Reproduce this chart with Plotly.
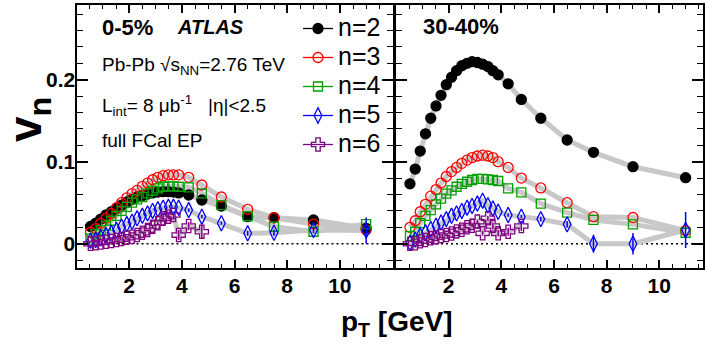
import plotly.graph_objects as go

# ---------------- data ----------------
pt = [0.53, 0.73, 0.92, 1.12, 1.32, 1.52, 1.71, 1.91, 2.11, 2.30, 2.50, 2.70, 2.89,
      3.09, 3.29, 3.49, 3.68, 3.88, 4.26, 4.76, 5.50, 6.50, 7.50, 9.00, 11.00]
pt6 = [0.53, 0.73, 0.92, 1.12, 1.32, 1.52, 1.71, 1.91, 2.11, 2.30, 2.50, 2.70, 2.89,
       3.09, 3.29, 3.49, 3.68, 3.88, 4.26, 4.76]

# 0-5 % centrality
c_v2 = [0.021, 0.025, 0.030, 0.035, 0.039, 0.043, 0.047, 0.051, 0.054, 0.057, 0.0585, 0.0605, 0.062,
        0.063, 0.0635, 0.0635, 0.063, 0.062, 0.0594, 0.0533, 0.046, 0.033, 0.0317, 0.029, 0.0188]
c_v3 = [0.0140, 0.0185, 0.0249, 0.031, 0.037, 0.044, 0.050, 0.056, 0.061, 0.065, 0.070, 0.074, 0.078,
        0.081, 0.083, 0.084, 0.084, 0.084, 0.081, 0.0716, 0.057, 0.042, 0.0317, 0.024, 0.0167]
c_v4 = [0.0066, 0.0118, 0.0167, 0.022, 0.028, 0.034, 0.040, 0.045, 0.050, 0.054, 0.057, 0.0615, 0.0646,
        0.0675, 0.0695, 0.070, 0.070, 0.0695, 0.0688, 0.0615, 0.047, 0.0335, 0.0207, 0.0146, 0.024]
c_v5 = [0.0037, 0.0045, 0.0078, 0.0106, 0.0134, 0.0167, 0.0207, 0.024, 0.0268, 0.031, 0.034, 0.037, 0.040,
        0.042, 0.044, 0.045, 0.045, 0.044, 0.041, 0.033, 0.025, 0.0127, 0.0134, 0.0167, 0.016]
c_v6 = [0.0, 0.0005, 0.0015, 0.0025, 0.0033, 0.0045, 0.0057, 0.0073, 0.0085, 0.0106, 0.0134, 0.0167, 0.0207,
        0.025, 0.031, 0.033, 0.035, 0.0106, 0.0216, 0.0146]
c_e5 = [0, 0, 0, 0, 0, 0, 0, 0, 0, 0, 0, 0, 0, 0, 0, 0, 0, 0, 0.002, 0.002, 0.002, 0.003, 0.004, 0.004, 0.016]
c_e6 = [0, 0, 0, 0, 0, 0, 0, 0, 0, 0, 0, 0, 0.002, 0.002, 0.003, 0.003, 0.004, 0.006, 0.005, 0.008]

# 30-40 % centrality
p_v2 = [0.073, 0.091, 0.113, 0.134, 0.153, 0.168, 0.181, 0.194, 0.203, 0.211, 0.217, 0.220, 0.222,
        0.221, 0.219, 0.216, 0.211, 0.206, 0.195, 0.176, 0.153, 0.1265, 0.1114, 0.0939, 0.0805]
p_v3 = [0.020, 0.028, 0.039, 0.048, 0.058, 0.066, 0.074, 0.082, 0.088, 0.093, 0.098, 0.102, 0.105,
        0.107, 0.108, 0.107, 0.105, 0.100, 0.093, 0.080, 0.068, 0.050, 0.033, 0.032, 0.016]
p_v4 = [0.0094, 0.0146, 0.025, 0.034, 0.041, 0.048, 0.055, 0.061, 0.065, 0.0695, 0.073, 0.0756, 0.0777,
        0.079, 0.079, 0.0785, 0.0777, 0.0765, 0.0675, 0.0627, 0.049, 0.038, 0.029, 0.0236, 0.0134]
p_v5 = [0.001, 0.005, 0.010, 0.014, 0.018, 0.022, 0.026, 0.030, 0.034, 0.037, 0.040, 0.044, 0.046,
        0.049, 0.0525, 0.047, 0.043, 0.039, 0.035, 0.033, 0.030, 0.0236, 0.0, 0.0, 0.0167]
p_v6 = [0.0, 0.0005, 0.003, 0.0045, 0.0066, 0.008, 0.0094, 0.0106, 0.0125, 0.015, 0.017, 0.020, 0.022,
        0.027, 0.0127, 0.031, 0.0216, 0.0127, 0.0146, 0.0216]
p_e5 = [0, 0, 0, 0, 0, 0, 0, 0, 0, 0, 0, 0, 0, 0, 0, 0, 0, 0, 0.002, 0.002, 0.003, 0.004, 0.011, 0.013, 0.022]
p_e6 = [0, 0, 0, 0, 0, 0, 0, 0, 0, 0, 0, 0, 0.002, 0.002, 0.003, 0.003, 0.004, 0.004, 0.005, 0.006]

series_names = ["n=2", "n=3", "n=4", "n=5", "n=6"]
colors = ["#000000", "#ff0000", "#00a000", "#0000ff", "#800080"]
symbols = ["circle", "circle-open", "square-open", "diamond-tall-open", "cross-open"]
sizes = [10, 10, 9, 11, 11]

FONT = "Liberation Sans, Arial, Helvetica, sans-serif"
BAND = "#c8c8c8"

W, H = 705, 346
def px(x):
    return x / W
def py(y):
    return 1 - y / H

fig = go.Figure()

central = [(pt, c_v2, None), (pt, c_v3, None), (pt, c_v4, None), (pt, c_v5, c_e5), (pt6, c_v6, c_e6)]
peripheral = [(pt, p_v2, None), (pt, p_v3, None), (pt, p_v4, None), (pt, p_v5, p_e5), (pt6, p_v6, p_e6)]

# systematic bands (grey lines) first
for xa, ya, data in [("x", "y", central), ("x2", "y2", peripheral)]:
    for xs, ys, _ in data:
        fig.add_trace(go.Scatter(x=xs, y=ys, mode="lines", xaxis=xa, yaxis=ya,
                                 line=dict(color=BAND, width=5), showlegend=False,
                                 hoverinfo="skip"))

# markers
for xa, ya, data in [("x", "y", central), ("x2", "y2", peripheral)]:
    for i, (xs, ys, es) in enumerate(data):
        err = dict(type="data", array=es, visible=True, color=colors[i], thickness=1.5, width=0) if es else None
        fig.add_trace(go.Scatter(
            x=xs, y=ys, mode="markers", xaxis=xa, yaxis=ya, showlegend=False,
            legendgroup=series_names[i],
            marker=dict(symbol=symbols[i], size=sizes[i], color=colors[i],
                        line=dict(color=colors[i], width=1.3)),
            error_y=err))

# legend entries (ROOT style: line through marker)
for i in range(5):
    fig.add_trace(go.Scatter(
        x=[None], y=[None], mode="lines+markers", xaxis="x", yaxis="y",
        name='<span style="font-size:25px">' + series_names[i] + "</span>",
        legendgroup=series_names[i], showlegend=True,
        line=dict(color=colors[i], width=1.3),
        marker=dict(symbol=symbols[i], size=sizes[i], color=colors[i],
                    line=dict(color=colors[i], width=1.3))))

xcommon = dict(showline=True, linewidth=2, linecolor="black", mirror="ticks",
               ticks="inside", ticklen=8, tickwidth=1.5, tickcolor="black",
               tickvals=[2, 4, 6, 8, 10], ticktext=["2", "4", "6", "8", "10"],
               minor=dict(ticks="inside", ticklen=4, tickwidth=1.2, tickcolor="black", dtick=0.5, tick0=0),
               showgrid=False, zeroline=False,
               tickfont=dict(family=FONT, size=21, color="black", weight="bold"),
               ticklabelstandoff=-2)
ycommon = dict(showline=True, linewidth=2, linecolor="black", mirror="ticks",
               ticks="inside", ticklen=11, tickwidth=1.5, tickcolor="black",
               tickvals=[0, 0.1, 0.2], ticktext=["0", "0.1", "0.2"],
               minor=dict(ticks="inside", ticklen=6, tickwidth=1.2, tickcolor="black", dtick=0.02, tick0=0),
               showgrid=False, zeroline=False, range=[-0.0296, 0.2911],
               tickfont=dict(family=FONT, size=21, color="black", weight="bold"),
               ticklabelstandoff=-5)

fig.update_layout(
    width=W, height=H, autosize=False,
    margin=dict(l=0, r=0, t=0, b=0),
    paper_bgcolor="white", plot_bgcolor="white",
    font=dict(family=FONT, color="black"),
    xaxis=dict(domain=[px(76.5), px(392.5)], range=[0, 12], anchor="y", **xcommon),
    yaxis=dict(domain=[py(268), py(5)], anchor="x", **ycommon),
    xaxis2=dict(domain=[px(396), px(703)], range=[0, 11.66], anchor="y2", **xcommon),
    yaxis2=dict(domain=[py(268), py(5)], anchor="x2", showticklabels=False, **ycommon),
    legend=dict(x=px(298), y=py(9), xanchor="left", yanchor="top",
                font=dict(family=FONT, size=20, color="black"),
                bgcolor="rgba(0,0,0,0)", tracegroupgap=0, itemsizing="trace"),
    showlegend=True,
)

# dotted zero lines
for xr, yr in [("x domain", "y"), ("x2 domain", "y2")]:
    fig.add_shape(type="line", xref=xr, yref=yr, x0=0, x1=1, y0=0, y1=0,
                  line=dict(color="black", width=1.5, dash="2px,3px"), layer="below")

ann = [
    dict(text="<b>0-5%</b>", x=px(100), y=py(27), size=22),
    dict(text="<b><i>ATLAS</i></b>", x=px(175), y=py(27), size=20),
    dict(text="Pb-Pb √s<sub>NN</sub>=2.76 TeV", x=px(100), y=py(66), size=19),
    dict(text="L<sub>int</sub>= 8 μb<sup>-1</sup>   |η|&lt;2.5", x=px(100), y=py(105), size=19),
    dict(text="full FCal EP", x=px(100), y=py(140), size=19),
    dict(text="<b>30-40%</b>", x=px(421), y=py(26), size=22),
]
for a in ann:
    fig.add_annotation(text=a["text"], x=a["x"], y=a["y"], xref="paper", yref="paper",
                       xanchor="left", yanchor="middle", showarrow=False,
                       font=dict(family=FONT, size=a["size"], color="black"))

# axis titles
fig.add_annotation(text="<b>p<sub>T</sub> [GeV]</b>", x=px(397), y=py(323), xref="paper", yref="paper",
                   xanchor="center", yanchor="middle", showarrow=False,
                   font=dict(family=FONT, size=28, color="black"))
fig.add_annotation(text="<b>v<sub>n</sub></b>", x=px(28), y=py(120), xref="paper", yref="paper",
                   xanchor="center", yanchor="middle", showarrow=False, textangle=-90,
                   font=dict(family=FONT, size=46, color="black"))

fig.write_html("out.html", config={"displayModeBar": False},
               post_script="document.body.style.margin='0px';document.body.style.padding='0px';")
